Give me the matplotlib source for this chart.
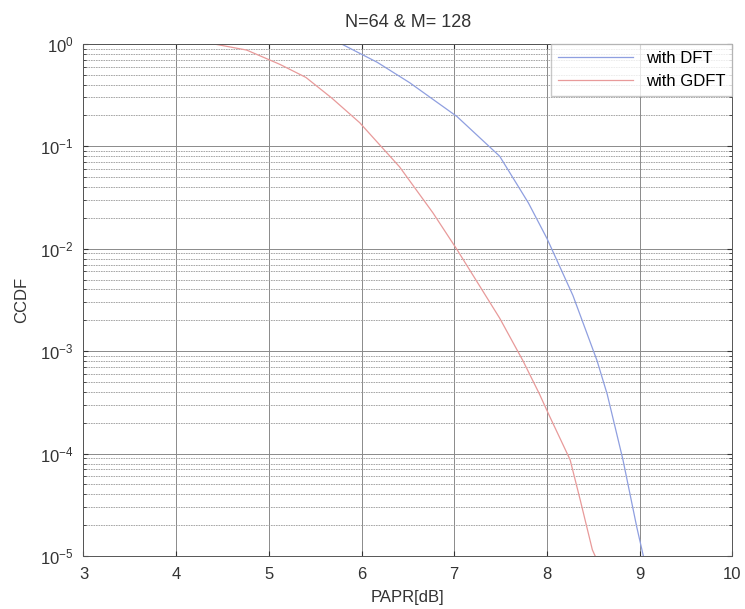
import matplotlib.pyplot as plt
from matplotlib.ticker import LogLocator, FixedLocator

plt.rcParams["font.family"] = ["Liberation Sans", "DejaVu Sans"]
plt.rcParams["mathtext.fontset"] = "custom"
plt.rcParams["mathtext.rm"] = "Liberation Sans"
plt.rcParams["mathtext.it"] = "Liberation Sans:italic"

# CCDF curves
papr_dft = [5.8, 6.17, 6.52, 7.03, 7.49, 7.8, 8.0, 8.28, 8.54, 8.65, 8.73, 8.82, 8.97, 9.04]
ccdf_dft = [0.98, 0.66, 0.417, 0.195, 0.08, 0.028, 0.0126, 3.5e-3, 8.1e-4, 3.8e-4,
            1.9e-4, 8.7e-5, 1.9e-5, 1e-5]

papr_gdft = [4.4, 4.76, 5.12, 5.4, 5.68, 5.98, 6.12, 6.41, 6.77, 7.03, 7.49, 7.74, 7.92,
             8.03, 8.25, 8.36, 8.49, 8.52]
ccdf_gdft = [1.0, 0.87, 0.63, 0.47, 0.295, 0.17, 0.123, 0.063, 0.0224, 9.8e-3, 2.1e-3,
             8.1e-4, 3.8e-4, 2.3e-4, 8.7e-5, 3.5e-5, 1.15e-5, 1e-5]

xticks = [3, 4, 5, 6, 7, 8, 9, 10]

fig = plt.figure(figsize=(7.45, 6.09), dpi=100)
ax = fig.add_axes([0.112, 0.087, 0.871, 0.841])

ax.semilogy(papr_dft, ccdf_dft, color="#8f9fe0", lw=0.9, label="with DFT")
ax.semilogy(papr_gdft, ccdf_gdft, color="#e89a9a", lw=0.9, label="with GDFT")

ax.set_xlim(3, 10)
ax.set_ylim(1e-5, 1)
ax.xaxis.set_major_locator(FixedLocator(xticks))
ax.yaxis.set_major_locator(LogLocator(base=10, numticks=10))
ax.yaxis.set_minor_locator(LogLocator(base=10, subs=range(2, 10), numticks=20))

ax.grid(True, which="major", color="#8a8a8a", lw=0.7)
ax.grid(True, which="minor", axis="y", color="#9a9a9a", lw=0.6, linestyle=(0, (2, 1)))
ax.tick_params(which="both", direction="in", top=True, right=True,
               labelsize=12, colors="#333333")
ax.tick_params(axis="x", pad=8)
ax.tick_params(axis="y", pad=7)
for s in ax.spines.values():
    s.set_color("#555555")
    s.set_linewidth(0.7)

ax.set_title("N=64 & M= 128", fontsize=13, color="#333333", pad=12)
ax.set_xlabel("PAPR[dB]", fontsize=12, color="#333333", labelpad=6)
ax.set_ylabel("CCDF", fontsize=12, color="#333333", labelpad=8)

leg = ax.legend(loc="upper right", fontsize=12, frameon=True, fancybox=False,
                edgecolor="#bbbbbb", borderaxespad=0.0, handlelength=4.5)

fig.savefig("out.png", dpi=100)
